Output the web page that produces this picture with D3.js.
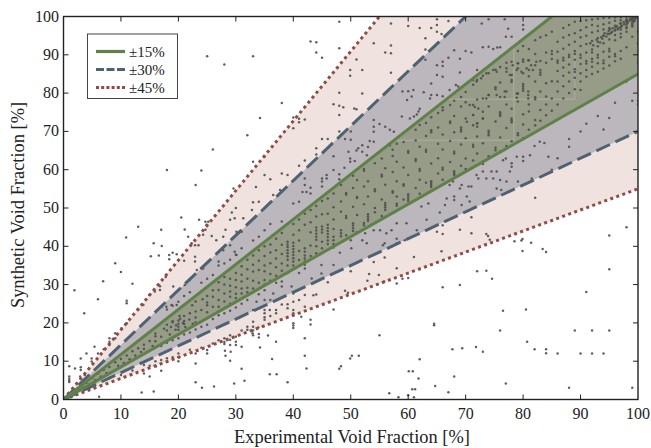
<!DOCTYPE html>
<html><head><meta charset="utf-8">
<script src="https://cdnjs.cloudflare.com/ajax/libs/d3/7.8.5/d3.min.js"></script>
<style>html,body{margin:0;padding:0;background:#fff}svg{display:block}text{font-family:"Liberation Serif",serif;fill:#222}</style>
</head><body><svg id="c" width="651" height="448"></svg>
<script>
const tickValues=[0,10,20,30,40,50,60,70,80,90,100];
const xTitle="Experimental Void Fraction [%]";
const yTitle="Synthetic Void Fraction [%]";
const legendLabels=["±15%","±30%","±45%"];
const bandFractions=[0.45,0.30,0.15];
const bandFills=["#efe2df","#bcb7bd","#969c88"];
const lineColors=["#8f4c44","#4e6272","#5f8048"];
const faintLines=[[67,78.4,89,78.4],[58,67.7,78.4,67.7],[78.4,67.7,78.4,92],[89,78.4,89,90]];
// points read outside the ±45% band
const outerPoints=[[13,45.1],[10.9,42.3],[17,44.3],[21.1,44.4],[15.7,40.8],[17.1,40.1],[15.2,37.4],[16.6,37.6],[9,35.6],[10,33.3],[6.9,30.9],[12,30.2],[1.9,28.5],[6,26.2],[11,25.8],[11,25.1],[3.6,22.5],[5.4,13.8],[4,12],[3,10.7],[1,8.7],[2,8.1],[3,8.4],[3,7.7],[1,6],[1,5.4],[1,4.9],[1,4.6],[6.2,.7],[13.6,1.8],[15.7,2.1],[23,4.5],[24.1,3.1],[26.2,3.4],[29.7,4.2],[31.5,4.9],[31,8],[29,10.1],[23,9.4],[15,6],[14,6.8],[17,7.5],[16.1,8.6],[28.1,12.7],[28.2,11.4],[29.1,12.5],[31,13.8],[34.2,13.6],[32.9,17.3],[34,17.1],[34,16.2],[35.6,16.7],[37,15.1],[36.3,10.6],[35.9,6.6],[37.1,6.6],[39,4.5],[40,19.9],[40,19.3],[40,18.7],[43,20.8],[43,19.6],[42,16],[42,11.4],[42.3,8.1],[48,8],[48.3,8.7],[49.9,10.7],[50.2,11.4],[51.4,11.4],[55,16.8],[47,23.5],[64.5,19.8],[66,29.3],[56.7,1.6],[58.3,.6],[60,1.1],[61,.6],[60.7,2.7],[61.2,2.7],[64.7,3.5],[67,1.9],[60.1,7.4],[60.8,7.4],[61.8,5.5],[62,10.5],[98,45],[95,42.8],[95,34],[91,28.1],[80.5,23.5],[76.5,23.2],[76,18],[89,18],[92,18],[95,18],[80.7,15.1],[82,13.1],[84,13.1],[84,12.1],[86,12],[90,12],[92,12],[94,12],[67.7,13.1],[69.4,13.4],[71.8,13.7],[73,12.5],[68,6],[77,4.2],[88,3.1],[99,3.1],[72,33.5],[73.6,33.6],[74.6,31.5],[69,29.9],[78.5,41.3],[79.7,41.5],[79.9,41.9],[81.4,40.9],[79.9,38.8],[83.4,39.3],[84,38.5],[43,93.5],[44,93.3],[44,90.6],[45,89.2],[48,98.6],[48,91.7],[33,89.6],[25,89.6],[28,87.5],[38,77.4],[32,69],[26,65.3],[18,59.9],[24,59.8],[23,56],[29.6,55.1],[64.5,19.4],[65.8,38.7],[34.2,73.5],[20.5,47.5]];
// points read in the pink ±30…45% zones
const pinkPoints=[[61,37.2],[55.9,37.1],[54,35.9],[58,34.3],[50,33.5],[53.2,32.8],[54.9,32.5],[52.9,31],[55.8,30.8],[58,30.3],[59,31.5],[60,31.7],[46,30.6],[49,28.4],[49.5,27.9],[43.5,27.2],[44,27.4],[42,27.3],[41,26],[40,25.5],[39,24.9],[39,23.8],[38,24.8],[40,23.4],[40,22.5],[42,24.2],[41.4,21.6],[35.9,23.4],[37,23.4],[35,23.4],[35,22.5],[35,21.5],[35,20.8],[36,21.8],[37,22.5],[33,20.3],[33,19],[33.9,18.8],[69,44.3],[71,43.4],[73.6,43.2],[73.9,42.7],[74.2,41.7],[71,47.6],[66,43.2],[65,43.8],[60,97.5],[57,98.2],[62,97],[64,97],[65,99.3],[65,97.8],[65,96],[67,98.8],[65.8,95.4],[63,94.3],[54,93],[57,92.4],[56,90.6],[57,90.4],[63,91.4],[51,88.8],[52,86],[49.9,86],[49.9,84.5],[57,85.3],[52,79.9],[50.6,76],[51,75.8],[48,80.1],[47,77.1],[48,76.7],[48.7,76.3],[48,74.3],[40,73.6],[41,73.3],[41,72.4],[42,73.1],[40,70.8],[48,70],[46,68],[45,68],[49,68],[50,67.8],[50,70],[44,65.6],[44,64],[42,62.4],[41,61],[47,63.5],[33,62.1],[35,63.4],[35,58.6],[36,57.5],[38,59],[39,58.6],[33.5,55.5],[33,51.5],[34,51.6],[30,50],[32.8,49.5],[36.5,53.4],[37.7,54.7],[24.7,46.4],[25.2,46.4],[24.9,45.6],[24.7,44.3],[25.8,42.7],[23.6,46.9],[24.3,43],[21.7,42.5],[22.3,40.8],[22.9,40.3],[23.5,40.3],[26.6,41.6],[27.8,42.5],[28.2,44.3],[29,46.9],[29.8,47.3],[31.3,47.3],[29.3,48.8],[22.9,37.3],[22.9,36],[27,36],[27,35],[18.4,37.7],[18.4,36.6],[19,38.3],[19.7,37.9],[21,36.2],[17.8,32],[16.8,29.6],[16.8,28.6],[15.9,28.2],[14.9,27.3],[13.9,24.7],[13,23.4],[10.1,18.6],[11,19.9],[9,16],[9,17.3],[8,16],[8,15.1],[8,14.2],[7,13.1],[6,12],[4.9,10.7],[4.9,9.9],[3.7,6.4],[2.9,6],[20,12],[20,11],[20,10],[23,12],[25,12.9],[25,12],[28,16],[28,15],[28,14.5],[29,16.8],[29,15.6],[29,14.2],[30,16.4],[30,15.1],[30,14.2],[32,19],[32,18.2],[33,18],[33,16.8],[17,10.3],[18,10.8],[16,10],[14,9],[12,7.6],[10,6.4],[8,5.6],[15,8.8],[19,11],[22,13],[24,13.5],[26,14.6],[27,15.5],[31,18]];
// points read in the blue-grey ±15…30% zones
const greyPoints=[[55.6,40.3],[55.9,40.8],[58,40.8],[59.4,41.6],[52.8,40.8],[52,41.6],[50,41.6],[50.1,39.5],[48.1,38.3],[47,35.1],[44.9,35.1],[44.9,32.9],[43.2,31.6],[42,34.2],[41,33],[39.7,29.5],[40,27.7],[38,29.5],[38,30.8],[36.5,27.7],[36,26],[35,26],[33.6,25.5],[33,23.4],[58,46],[59.7,46],[57.1,44.2],[56.2,43.4],[61.5,44.2],[63.2,46.9],[65.5,48.8],[66,45.5],[58,42],[54,44.2],[55.1,44.2],[52.5,43.4],[51,43.6],[74,99.3],[72.8,98.2],[76.8,99.3],[77.4,96.8],[80,97.8],[80,96.6],[77,94.7],[78,94.7],[73,92],[74,92.1],[74.8,91.5],[75.5,91.9],[76,92],[68,91.2],[70,91],[71,90.6],[69,89],[67,89.2],[66,88.2],[65,87.3],[66,87.1],[63,88.7],[72,86],[69,85.4],[66,84.3],[65,84.7],[64,82.5],[62.7,80.2],[60.9,80.8],[60,80.5],[59,80.4],[60.6,79.1],[59.8,78.2],[64,79.5],[63.8,78.6],[65,79.5],[66,79.2],[67.2,80.8],[68.3,82.1],[68.7,81.7],[62,75.9],[61.8,75.2],[61.5,74.4],[61,73.9],[60.3,73.4],[58.9,73.9],[56.8,70.4],[56,71.2],[55,71.9],[54,73],[54,71.2],[54,69.9],[57.5,69.9],[56.8,66.4],[54,67.3],[53.3,67.5],[53,65.9],[52,66.4],[51.3,65.6],[49.9,62.9],[50.7,62.3],[52.8,63.8],[52,64.7],[84.4,63.4],[82.9,67.3],[83.7,67],[82,66.2],[81.2,63.8],[80,63.4],[80,62.3],[78.9,63.4],[78,61.7],[78,60.8],[77,62.9],[76.5,62.5],[77.7,59.5],[75.4,59.5],[74.5,59.5],[73,59.5],[71.9,58.6],[72.2,57.7],[73.6,57.7],[74.8,57.7],[76,57.3],[71,55.6],[70.5,55.6],[69.3,56],[69,55.1],[67.8,56.9],[67.2,56],[66.7,52.5],[68,53],[68,52.1],[70.2,53],[70.7,51.7],[63.5,51.2],[62.3,50.4],[66.4,50.8],[69.3,50.8],[81.5,57.7],[79.1,56.9],[77.1,56.9],[75.4,55.1],[76.2,54.7],[82.1,52.7],[42,57.7],[42,56],[42.3,54.2],[41.6,54.2],[43,55.3],[43,53.8],[45,57.7],[45,56.9],[45,55.6],[45.8,58.6],[45.8,57.7],[47,59.9],[48,58.8],[48,57.5],[48.9,60.5],[49.9,62.1],[51,65],[49.6,64.7],[40,51.2],[41,51.6],[38,46.5],[36,45.8],[35,44.2],[34,42.5],[33,41.5],[31,39.5],[30,37.8],[29,36.5],[28,35.5],[26,32.5],[25,31.5],[24,30.5],[22,28],[21,27],[20,25.5],[19,24.5],[18,23.5],[30.1,43.8],[31,43.8],[29,40.3],[29.8,38.6],[30.1,37.7],[27.8,39],[24.3,34.2],[23.2,33.8],[22,31.2],[21.1,29.9],[20,28.6],[19.1,29.5],[18.8,24.7],[19.7,24.7],[17.9,24.2],[17.1,24.2],[39,33],[37,30.5],[35,28.5],[34,27.5],[32,26],[31,25],[30,24],[29,23.2],[28,22.5],[27,22],[26,21],[25,19.5],[24,19],[23,18.3],[22,17.5],[21,17],[20,16],[19,15.5],[18,14.8],[17,14],[88,68],[88,66],[86,63],[85,60],[90,70],[93,74],[96,77.5],[99,78],[100,77],[94,70.5],[91,72],[95,73.5],[98,83],[100,78],[100,88],[100,90],[100,93],[100,96]];
// vertical runs of points read in the ±15% zone: x first, then its y values
const streakX=[14,16,18,20,21,23,25,26,27,28,29,30,31,32,33,34,35,36,37,38,39,40,41,42,43,44,45,46,47,48.3,49.2,50.4,51.1,52.3,53,54.2,55.4,56,57.3,58,59.2,60,61.3,62,63.1,64,65.2,66,67.3,68,69.2,70,71.3,72,73,74,75.2,76,77.1,78,79.1,80,81,82.1,83,84,85,86,87,88,89,90,91,92,93,94,95,96,97,98,99];
const streakY=[[14.3,13.2],[16.5,15.2],[19.5,18],[20.6,19.8,19,18.2],[21.8,19.7,20.5],[25.6,23,21.4,20.1],[27,25.3,24.6,22.8],[26.8,24.2,28.5],[30.6,28.6,26,24.2],[32,30,27.7,25.6],[31.5,29.7,28.2,26.8,25],[33,31.2,29.3,27.6,26.5],[34.8,32.6,30.8,29,27.7],[36.5,34,31.5,29.2,28],[37.6,35.2,33.4,31,29],[39,36.2,33.8,30.5],[40,37.5,35,33.5,31.2,30],[40.5,38.4,35.6,32.8,31],[42,39,36.8,34.5,32.3],[43.5,40.4,38,35.5,33.6],[41.2,40.5,39.8,39,38.2,37.4,36.5,35],[45.8,43,40.9,40.1,39.3,38.5,37.7,36.9,36,35],[47,44.2,41.5,38.8,36.4],[39.5,38.6,37.6,36.8,36,35.2,45.6,48.5],[49.5,46.3,43.7,40.2,37.5],[50.5,47.8,44.9,44.1,43.3,42.5,41.7,40,38.2],[51.8,48.4,45.2,44.4,43.6,41.2,39.5],[45.6,44.8,44,43.2,42.4,41.5,40.6,52.5,48.5],[53.8,50.2,47,44.5,42.5,41.6,40.6,39.7],
[42.6,43.4,44.2,49,51.7,56],[42.9,47.4,47.9,53.5,53.9],[44,44.7,45.4,46,50.3,55.2,58.4],[48.2,52.6,52.9,57.3],[45.5,46.1,51,55.6,59.7,60.2],[46.7,47.2,47.8,48.4,53,57],[48.9,50,54.4,54.9,61.7],[47.9,52.2,58.2,58.7,62.9],[49.5,50.1,50.7,51.3,56.1,60.4],[54,54.4,59.4,63.6,65.2],[50.6,51.1,53,57,62.1,66.8],[52.2,55.8,56.2,60.6,67.2],[51.8,52.4,53,53.6,58.6,64.4,64.9],[55.2,62.3,62.8,67.6,70.4],[53.7,57.4,59.7,60.2,66,71.7],[56.6,64.7,65.2,68.8,72.2],[55.5,56,56.5,57,61.6,69.8,70.3,73.7],[59,63,66.8,71,74.8],[57.4,60,60.5,65.3,69.2,75.5,76.3],[62,67.5,72.2,72.6,76.9],[58.6,59.1,59.6,64.2,64.7,69.8,74,78],[61,66.6,70,70.5,71,76.5,79],[60.2,62.9,68.2,73.4,77.6,80.3],[62.4,66,66.5,71.6,74.3,76.9,82.2],[64.2,68.7,71.2,72.1,78.3,83.4],[61.5,62.1,66.9,73.4,75.1,78.6,84.5],[63.5,69,69.6,70.2,76.5,79.5,85.2],[65.1,65.7,72.6,81,81.5,86.1],[64.7,68.4,74,74.5,75,79,82.8,86.8],[66.2,70.9,77,80.4,85.6,87.9],[67.4,72.4,72.9,73.4,75.9,82.9,83.4,84.7,88.2],[69,69.5,77.8,79.9,86.5,87.8,91],[68.2,71.8,74.5,80.6,81.2,81.8,82.4,85.2,88.8,92.3],[70.4,75.2,77,84.4,86,88.6,91.5],[71.6,73,78.4,78.9,83,87.3,90.2,93.8],[72.8,75.6,80.4,84.8,85.4,86,88.4,94.6],[74.2,77,79.1,82.6,87.9,90.6,95.1],
[75.4,78.6,83.1,88.9,90.2,91,96],[93.4,90.8,88.5,87.9,85.8,83,80.4,77],[97,94.5,91.6,89.2,88.6,86.7,84.5,81.8,78.6],[97.8,95.2,92.6,90,89.4,87.5,85.4,83,80],[98.6,95.6,93.4,91,90.2,88.7,86.2,85.5,84,81],[98.8,96.4,94.6,92.3,90,89.2,87.6,85.2,83,80.8],[99,97.2,95,92.8,90.6,88.4,87.7,86,84.3],[99.2,97.8,95.8,93.6,91.4,90.6,89,88.2,86.9,85],[99.4,97.5,96.2,94.4,92.2,90,89.3,87.8,85.6],[99.6,98,96.6,95,93,90.8,88.5,87.8,86.4],[99.7,98.4,97,95.4,94,91.6,90.9,89.5,87.2],[99.8,98.9,97.6,96.4,95.2,93.8,90.2,89.6,88.3],[99.8,99,98.2,97.3,96.6,95.5,94.6,91,89],[99.9,99.2,98.6,98,97.3,96.9,96,92],[99.9,99.5,99.1,98.7,98.2,97.8,97.4,94.7]];
// clumps read in the ±15% zone
const clumpPoints=[[78.2,87.3],[79.1,87.8],[80,88.2],[80.9,88.6],[81.4,87.3],[82.3,88.2],[77.1,86.5],[77.7,84.7],[78.9,86],[79.7,85.6],[80.6,86.5],[81.7,86],[75.4,85.6],[74.8,86],[73.6,85.2],[72.7,83.9],[71.9,83],[71.3,83.4],[70.7,76.9],[71.6,76.4],[72.2,76],[71.3,74.3],[70.2,72.5],[72,72.1],[73,73.4],[74,79.5],[73.6,78.6],[75.4,79.5],[76.8,80.4],[76.8,79],[78.9,79.9],[78.9,78.8],[80.9,80.4],[80.9,79.5],[80.9,78.6],[19,20.2],[19.6,19.4],[20.3,21.1],[20.8,20],[21.2,18.9],[21.9,20.9],[18.7,18.9],[22.5,19.8]];
// dense cloud at the top-right corner and the low-x tail
const cornerPoints=[[100,100],[99.8,99.7],[99.6,99.9],[99.5,99.4],[99.2,99.6],[99.3,98.7],[98.8,99.2],[98.5,98.9],[98.2,98.4],[97.9,98.8],[97.6,98],[97.2,97.6],[96.9,98.2],[96.6,97],[96.3,97.5],[96,96.4],[95.6,96.9],[95.3,95.7],[94.9,96.2],[94.5,94.8],[94.2,95.6],[93.8,94.2],[93.4,93.2],[92.8,93.9],[92.2,92.5],[91.7,93],[99.4,99],[99,99.4],[98.6,99.5],[98.1,99],[97.5,98.5],[97,97.2],[96.5,96.7],[96.1,97.1],[95.5,96],[95.1,96.7],[94.7,95.5],[94,95],[93.6,94.6],[93,93.4],[0.5,0.7],[1,1.2],[1.6,1.5],[2,2.6],[2.5,2.3],[3,3.6],[3.5,3.1],[4,4.4],[4.5,3.9],[5,5.6],[5.5,5],[6,6.8],[6.5,6],[7,7.8],[7.5,6.9],[8,8.5],[9,9.7],[9.5,8.8],[10,10.6],[10.5,9.5],[11,11.5],[11.5,10.5],[12,12.6],[12.5,11.5],[13,13.4],[13.5,12.4],[15,15.3],[15.5,14],[16,17.2],[17,16.4],[17.5,18.5],[18.5,17],[19,20.5],[19.5,18.2],[20.2,21.8],[22,22.5],[22.4,24.6],[24,23.4],[24.2,26.2]];

const L=63.5,R=638,T=16.5,B=399.5;
const svg=d3.select("#c");
const x=d3.scaleLinear().domain([0,100]).range([L,R]);
const y=d3.scaleLinear().domain([0,100]).range([B,T]);
svg.append("defs").append("clipPath").attr("id","plot").append("rect").attr("x",L).attr("y",T).attr("width",R-L).attr("height",B-T);
const plot=svg.append("g").attr("clip-path","url(#plot)");

const line=d3.line().x(d=>x(d[0])).y(d=>y(d[1]));
function wedge(f){return [[0,0],[100,100*(1-f)],[100,100],[100*(1-f),100]];}
bandFractions.forEach((f,i)=>plot.append("path").attr("d",line(wedge(f))+"Z").attr("fill",bandFills[i]));
faintLines.forEach(s=>plot.append("line").attr("x1",x(s[0])).attr("y1",y(s[1])).attr("x2",x(s[2])).attr("y2",y(s[3])).attr("stroke","#acb1a0").attr("stroke-width",1));

const streakPoints=streakX.flatMap((v,i)=>streakY[i].map(w=>[v,w]));
const allPoints=[...outerPoints,...pinkPoints,...greyPoints,...streakPoints,...clumpPoints,...cornerPoints];
plot.append("g").selectAll("circle").data(allPoints).join("circle")
  .attr("cx",d=>x(d[0])).attr("cy",d=>y(d[1])).attr("r",1.25).attr("fill","#4f4f4d").attr("fill-opacity",.9);

const dashes=["3,3.4","15,6",null];
const legendDashes=["3,2.2","8,2.5",null];
bandFractions.forEach((f,i)=>{
  [[[0,0],[100,100*(1-f)]],[[0,0],[100*(1-f),100]]].forEach(seg=>{
    plot.append("path").attr("d",line(seg)).attr("fill","none").attr("stroke",lineColors[i]).attr("stroke-width",3).attr("stroke-dasharray",dashes[i]);
  });
});

// frame and inward ticks
const ax=svg.append("g").attr("stroke","#222");
ax.append("rect").attr("x",L).attr("y",T).attr("width",R-L).attr("height",B-T).attr("fill","none").attr("stroke-width",1.4);
tickValues.slice(1,-1).forEach(v=>{
  ax.append("line").attr("x1",x(v)).attr("x2",x(v)).attr("y1",B).attr("y2",B-5);
  ax.append("line").attr("x1",x(v)).attr("x2",x(v)).attr("y1",T).attr("y2",T+5);
  ax.append("line").attr("y1",y(v)).attr("y2",y(v)).attr("x1",L).attr("x2",L+5);
  ax.append("line").attr("y1",y(v)).attr("y2",y(v)).attr("x1",R).attr("x2",R-5);
});
svg.selectAll(".xl").data(tickValues).join("text").attr("x",d=>x(d)).attr("y",419).attr("text-anchor","middle").attr("font-size",16).text(d=>d);
svg.selectAll(".yl").data(tickValues).join("text").attr("x",59).attr("y",d=>y(d)+5).attr("text-anchor","end").attr("font-size",16).text(d=>d);
svg.append("text").attr("x",352).attr("y",443).attr("text-anchor","middle").attr("font-size",18.4).text(xTitle);
svg.append("text").attr("transform","translate(24,205) rotate(-90)").attr("text-anchor","middle").attr("font-size",18.4).text(yTitle);

// legend
const lg=svg.append("g");
lg.append("rect").attr("x",87.5).attr("y",34).attr("width",90).attr("height",64.5).attr("fill","#fff").attr("stroke","#444").attr("stroke-width",1);
legendLabels.forEach((t,i)=>{
  const yy=51.5+i*18, j=2-i;
  lg.append("line").attr("x1",96).attr("x2",125).attr("y1",yy).attr("y2",yy).attr("stroke",lineColors[j]).attr("stroke-width",3.2).attr("stroke-dasharray",legendDashes[j]);
  lg.append("text").attr("x",129).attr("y",yy+5).attr("font-size",15).text(t);
});
</script></body></html>
